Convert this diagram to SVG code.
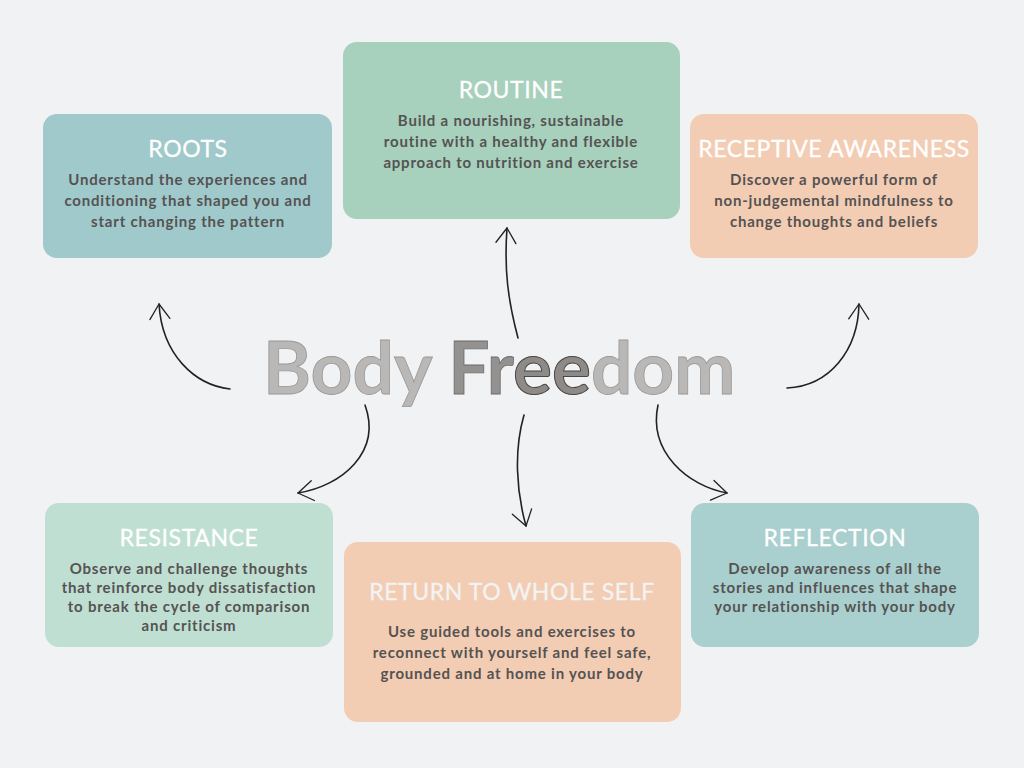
<svg xmlns="http://www.w3.org/2000/svg" width="1024" height="768" viewBox="0 0 1024 768">
<defs>
<style>
.bg{fill:#f1f2f4}
.box{stroke:none}
.t{font-family:Lato,"Open Sans","Liberation Sans",sans-serif;font-size:23px;fill:#ffffff;text-anchor:middle;letter-spacing:0.6px;stroke:#ffffff;stroke-width:0.3}
.b{font-family:Lato,"Open Sans","Liberation Sans",sans-serif;font-size:15px;font-weight:700;fill:#555352;text-anchor:middle;letter-spacing:0.8px}
.arr{fill:none;stroke:#222;stroke-width:1.6;stroke-linecap:round;marker-end:url(#ah)}
.title{font-family:Lato,"Open Sans","Liberation Sans",sans-serif;font-size:73px;font-weight:700}
</style>
<marker id="ah" markerUnits="userSpaceOnUse" markerWidth="30" markerHeight="30" viewBox="-20 -15 30 30" refX="0" refY="0" orient="auto">
<path d="M-15,-10 L0,0 L-15,10" fill="none" stroke="#222" stroke-width="1.3" stroke-linecap="round" stroke-linejoin="round"/>
</marker>
</defs>
<rect class="bg" x="0" y="0" width="1024" height="768"/>

<g id="connectors">
<path class="arr" d="M230,389 C195,385 162,355 159,304"/>
<path class="arr" d="M787,388 C830,386 858,350 859,304"/>
<path class="arr" d="M518,338 C508,300 504,270 507,228"/>
<path class="arr" d="M365,405 C382,452 342,486 298,493"/>
<path class="arr" d="M524,415 C514,450 516,490 526,526"/>
<path class="arr" d="M658,405 C648,452 688,486 727,493"/>
</g>

<g id="title">
<text class="title" x="263" y="394"><tspan fill="#b9b8b6" stroke="#9a9997" stroke-width="0.8">Body </tspan><tspan fill="#949290" stroke="#6e6c6a" stroke-width="0.8">Fr</tspan><tspan fill="#8d8a87" stroke="#4a4846" stroke-width="1">ee</tspan><tspan fill="#b9b8b6" stroke="#9a9997" stroke-width="0.8">dom</tspan></text>
</g>

<g id="roots">
<rect class="box" x="43" y="114" width="289" height="144" rx="14" fill="#a0c9cb"/>
<text class="t" x="188" y="157">ROOTS</text>
<text class="b" x="188" y="185">Understand the experiences and</text>
<text class="b" x="188" y="206">conditioning that shaped you and</text>
<text class="b" x="188" y="227">start changing the pattern</text>
</g>

<g id="routine">
<rect class="box" x="343" y="42" width="337" height="177" rx="14" fill="#a7d0bd"/>
<text class="t" x="511" y="98">ROUTINE</text>
<text class="b" x="511" y="126">Build a nourishing, sustainable</text>
<text class="b" x="511" y="147">routine with a healthy and flexible</text>
<text class="b" x="511" y="168">approach to nutrition and exercise</text>
</g>

<g id="receptive-awareness">
<rect class="box" x="690" y="114" width="288" height="144" rx="14" fill="#f2cdb4"/>
<text class="t" x="834" y="157">RECEPTIVE AWARENESS</text>
<text class="b" x="834" y="185">Discover a powerful form of</text>
<text class="b" x="834" y="206">non-judgemental mindfulness to</text>
<text class="b" x="834" y="227">change thoughts and beliefs</text>
</g>

<g id="resistance">
<rect class="box" x="45" y="503" width="288" height="144" rx="14" fill="#c0dfd3"/>
<text class="t" x="189" y="546">RESISTANCE</text>
<text class="b" x="189" y="574">Observe and challenge thoughts</text>
<text class="b" x="189" y="593">that reinforce body dissatisfaction</text>
<text class="b" x="189" y="612">to break the cycle of comparison</text>
<text class="b" x="189" y="631">and criticism</text>
</g>

<g id="return-to-whole-self">
<rect class="box" x="344" y="542" width="337" height="180" rx="14" fill="#f2cdb4"/>
<text class="t" x="512" y="600" style="fill:#f3f3f3;stroke:#f3f3f3">RETURN TO WHOLE SELF</text>
<text class="b" x="512" y="637">Use guided tools and exercises to</text>
<text class="b" x="512" y="658">reconnect with yourself and feel safe,</text>
<text class="b" x="512" y="679">grounded and at home in your body</text>
</g>

<g id="reflection">
<rect class="box" x="691" y="503" width="288" height="144" rx="14" fill="#a9cfcf"/>
<text class="t" x="835" y="546">REFLECTION</text>
<text class="b" x="835" y="574">Develop awareness of all the</text>
<text class="b" x="835" y="593">stories and influences that shape</text>
<text class="b" x="835" y="612">your relationship with your body</text>
</g>
</svg>
